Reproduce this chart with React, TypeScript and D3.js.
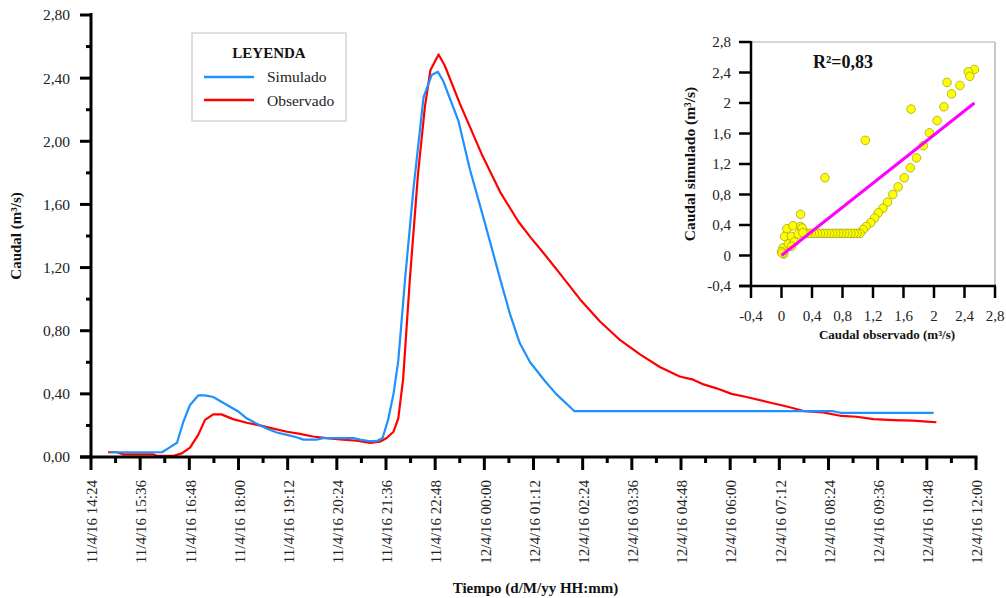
import React from 'react';
import * as d3 from 'd3';

// ---------- Data: hydrograph ----------
const simTimes = ["11/4/16 14:52","11/4/16 16:08","11/4/16 16:17","11/4/16 16:30","11/4/16 16:39","11/4/16 16:49","11/4/16 17:01","11/4/16 17:11","11/4/16 17:23","11/4/16 17:35","11/4/16 17:47","11/4/16 17:59","11/4/16 18:12","11/4/16 18:27","11/4/16 18:41","11/4/16 18:56","11/4/16 19:11","11/4/16 19:25","11/4/16 19:35","11/4/16 19:54","11/4/16 20:04","11/4/16 20:29","11/4/16 20:48","11/4/16 20:58","11/4/16 21:13","11/4/16 21:22","11/4/16 21:31","11/4/16 21:39","11/4/16 21:47","11/4/16 21:54","11/4/16 22:04","11/4/16 22:16","11/4/16 22:31","11/4/16 22:43","11/4/16 22:52","11/4/16 23:00","11/4/16 23:22","11/4/16 23:39","12/4/16 00:01","12/4/16 00:23","12/4/16 00:38","12/4/16 00:52","12/4/16 01:07","12/4/16 01:29","12/4/16 01:45","12/4/16 02:12","12/4/16 08:31","12/4/16 08:41","12/4/16 10:58"];
const simValues = [0.03,0.03,0.055,0.09,0.22,0.33,0.39,0.39,0.38,0.35,0.32,0.29,0.245,0.21,0.18,0.155,0.14,0.125,0.11,0.11,0.12,0.12,0.12,0.11,0.10,0.10,0.12,0.235,0.40,0.61,1.13,1.69,2.28,2.42,2.44,2.38,2.13,1.82,1.48,1.13,0.90,0.72,0.60,0.48,0.40,0.29,0.29,0.28,0.28];

const obsTimes = ["11/4/16 14:49","11/4/16 15:02","11/4/16 15:11","11/4/16 15:55","11/4/16 16:00","11/4/16 16:25","11/4/16 16:37","11/4/16 16:49","11/4/16 17:01","11/4/16 17:11","11/4/16 17:23","11/4/16 17:35","11/4/16 17:52","11/4/16 18:12","11/4/16 18:31","11/4/16 18:51","11/4/16 19:11","11/4/16 19:30","11/4/16 19:49","11/4/16 20:09","11/4/16 20:33","11/4/16 20:53","11/4/16 21:13","11/4/16 21:27","11/4/16 21:37","11/4/16 21:47","11/4/16 21:54","11/4/16 22:01","11/4/16 22:11","11/4/16 22:23","11/4/16 22:33","11/4/16 22:41","11/4/16 22:53","11/4/16 23:02","11/4/16 23:24","11/4/16 23:56","12/4/16 00:23","12/4/16 00:50","12/4/16 01:08","12/4/16 01:29","12/4/16 01:51","12/4/16 02:20","12/4/16 02:49","12/4/16 03:19","12/4/16 03:48","12/4/16 04:17","12/4/16 04:46","12/4/16 05:06","12/4/16 05:21","12/4/16 05:40","12/4/16 06:02","12/4/16 06:24","12/4/16 06:53","12/4/16 07:23","12/4/16 07:49","12/4/16 08:16","12/4/16 08:43","12/4/16 09:05","12/4/16 09:30","12/4/16 09:59","12/4/16 10:28","12/4/16 10:48","12/4/16 11:02"];
const obsValues = [0.03,0.03,0.017,0.017,0.008,0.008,0.023,0.06,0.14,0.235,0.27,0.27,0.24,0.217,0.20,0.18,0.16,0.146,0.13,0.12,0.11,0.103,0.09,0.097,0.12,0.16,0.245,0.49,1.13,1.80,2.22,2.45,2.55,2.48,2.24,1.92,1.68,1.49,1.39,1.28,1.16,1.00,0.86,0.74,0.65,0.57,0.51,0.49,0.46,0.435,0.40,0.38,0.35,0.32,0.29,0.283,0.26,0.255,0.24,0.234,0.23,0.224,0.22];

const timeDomain = ["11/4/16 14:24", "12/4/16 12:00"];
const mainYTicks = [0, 0.4, 0.8, 1.2, 1.6, 2.0, 2.4, 2.8];

// ---------- Data: scatter (observed vs simulated) ----------
const scatterObs = [2.53,2.45,2.47,2.17,2.34,2.23,2.13,1.70,2.04,1.94,1.86,1.77,1.69,1.61,1.53,1.46,1.39,1.33,1.27,1.22,1.17,1.11,1.07,
  1.03,0.99,0.95,0.91,0.87,0.83,0.79,0.75,0.71,0.67,0.63,0.59,0.55,0.51,0.47,0.43,0.39,0.35,0.31,
  1.10,0.57,0.25,
  0.07,0.15,0.25,0.27,0.04,0.13,0.22,0.28,0.02,0.09,0.17,0.0,0.03,0.13,0.01];
const scatterSim = [2.44,2.41,2.35,2.27,2.23,2.12,1.95,1.92,1.77,1.61,1.44,1.28,1.15,1.02,0.90,0.80,0.70,0.62,0.56,0.49,0.43,0.38,0.34,
  0.29,0.29,0.29,0.29,0.29,0.29,0.29,0.29,0.29,0.29,0.29,0.29,0.29,0.29,0.29,0.29,0.29,0.29,0.29,
  1.51,1.02,0.54,
  0.35,0.39,0.38,0.36,0.25,0.25,0.28,0.30,0.10,0.15,0.18,0.05,0.02,0.12,0.03];
const regObs = [0, 2.53];
const regSim = [0, 2.0];
const insetTicks = [-0.4, 0, 0.4, 0.8, 1.2, 1.6, 2.0, 2.4, 2.8];
const r2Label = "R²=0,83";

const parse = d3.timeParse('%d/%m/%y %H:%M');
const fmtTime = d3.timeFormat('%-d/%-m/%y %H:%M');
const loc = d3.formatLocale({ decimal: ',', thousands: '.', grouping: [3], currency: ['', ''], minus: '-' });
const fmt2 = loc.format('.2f');
const fmt1 = loc.format('.1~f');

const SERIF = '"Liberation Serif", "Times New Roman", serif';

export default function App() {
  const t0 = parse(timeDomain[0])!;
  const t1 = parse(timeDomain[1])!;
  const x = d3.scaleTime().domain([t0, t1]).range([91, 976]);
  const y = d3.scaleLinear().domain([0, 2.8]).range([457, 15]);

  const majorX = d3.range(19).map(i => new Date(t0.getTime() + i * 72 * 60000));
  const minorX = d3.range(18).map(i => new Date(t0.getTime() + (i * 72 + 36) * 60000));
  const minorY = mainYTicks.slice(0, -1).map(v => v + 0.2);

  const sim = simTimes.map((t, i) => ({ t: parse(t)!, v: simValues[i] }));
  const obs = obsTimes.map((t, i) => ({ t: parse(t)!, v: obsValues[i] }));
  const line = d3.line<{ t: Date; v: number }>().x(d => x(d.t)).y(d => y(d.v));

  const ix = d3.scaleLinear().domain([-0.4, 2.8]).range([751, 995]);
  const iy = d3.scaleLinear().domain([-0.4, 2.8]).range([286, 42]);

  const [x0, x1] = x.range();
  const [y0, y1] = y.range();

  return (
    <svg width={1006} height={598} style={{ position: 'absolute', left: 0, top: 0, background: '#fff' }}
      fontFamily={SERIF}>
      <rect x={0} y={0} width={1006} height={598} fill="#fff" />
      {/* ---- Main chart ---- */}
      <path d={line(obs) || ''} fill="none" stroke="#ff0000" strokeWidth={2.2} strokeLinejoin="round" />
      <path d={line(sim) || ''} fill="none" stroke="#1e90ff" strokeWidth={2.2} strokeLinejoin="round" />
      {/* y axis */}
      <line x1={x0} x2={x0} y1={y1 - 2} y2={y0 + 1.5} stroke="#000" strokeWidth={3} />
      {mainYTicks.map(v => (
        <g key={'yt' + v}>
          <line x1={x0 - 11} x2={x0} y1={y(v)} y2={y(v)} stroke="#000" strokeWidth={3} />
          <text x={70} y={y(v)} dy="0.35em" textAnchor="end" fontSize={15.5} fill="#222">{fmt2(v)}</text>
        </g>
      ))}
      {minorY.map(v => (
        <line key={'ym' + v} x1={x0 - 5} x2={x0} y1={y(v)} y2={y(v)} stroke="#000" strokeWidth={3} />
      ))}
      {/* x axis */}
      <line x1={x0 - 11} x2={x1 + 1.5} y1={y0} y2={y0} stroke="#000" strokeWidth={3} />
      {majorX.map(d => (
        <g key={'xt' + d.getTime()}>
          <line x1={x(d)} x2={x(d)} y1={y0} y2={y0 + 13} stroke="#000" strokeWidth={3} />
          <text transform={`translate(${x(d) + 1},${480}) rotate(-90)`} dy="0.35em" textAnchor="end" fontSize={15} fill="#222">{fmtTime(d)}</text>
        </g>
      ))}
      {minorX.map(d => (
        <line key={'xm' + d.getTime()} x1={x(d)} x2={x(d)} y1={y0} y2={y0 + 6} stroke="#000" strokeWidth={3} />
      ))}
      <text x={(x0 + x1) / 2 + 2} y={593} textAnchor="middle" fontSize={15} fontWeight="bold" fill="#111">Tiempo (d/M/yy HH:mm)</text>
      <text transform={`translate(21,${(y0 + y1) / 2}) rotate(-90)`} textAnchor="middle" fontSize={15} fontWeight="bold" fill="#111">Caudal (m³/s)</text>

      {/* legend */}
      <rect x={192} y={33} width={154} height={88} fill="#fff" stroke="#bfbfbf" strokeWidth={1} />
      <text x={269} y={58} textAnchor="middle" fontSize={15} fontWeight="bold" fill="#111">LEYENDA</text>
      <line x1={204} x2={254} y1={77} y2={77} stroke="#1e90ff" strokeWidth={2.5} />
      <text x={267} y={82} fontSize={15.5} fill="#222">Simulado</text>
      <line x1={204} x2={254} y1={100} y2={100} stroke="#ff0000" strokeWidth={2.5} />
      <text x={267} y={106} fontSize={15.5} fill="#222">Observado</text>

      {/* ---- Inset scatter ---- */}
      <line x1={ix(-0.4)} x2={ix(2.8)} y1={iy(2.8)} y2={iy(2.8)} stroke="#c8c8c8" strokeWidth={1.5} />
      <line x1={ix(2.8)} x2={ix(2.8)} y1={iy(2.8)} y2={iy(-0.4)} stroke="#c8c8c8" strokeWidth={2} />
      {scatterObs.map((o, i) => (
        <circle key={'p' + i} cx={ix(o)} cy={iy(scatterSim[i])} r={4.3} fill="#ffff00" stroke="#9a9a10" strokeWidth={0.7} />
      ))}
      <line x1={ix(regObs[0])} y1={iy(regSim[0])} x2={ix(regObs[1])} y2={iy(regSim[1])} stroke="#ff00ff" strokeWidth={3} />
      <line x1={ix(-0.4)} x2={ix(-0.4)} y1={iy(2.8) - 1} y2={iy(-0.4) + 1} stroke="#000" strokeWidth={2.5} />
      <line x1={ix(-0.4) - 12} x2={ix(2.8) + 1} y1={iy(-0.4)} y2={iy(-0.4)} stroke="#000" strokeWidth={2.5} />
      {insetTicks.map(v => (
        <g key={'it' + v}>
          <line x1={ix(-0.4) - 12} x2={ix(-0.4)} y1={iy(v)} y2={iy(v)} stroke="#000" strokeWidth={2.5} />
          <text x={731} y={iy(v)} dy="0.35em" textAnchor="end" fontSize={15} fill="#222">{fmt1(v)}</text>
          <line x1={ix(v)} x2={ix(v)} y1={iy(-0.4)} y2={iy(-0.4) + 12} stroke="#000" strokeWidth={2.5} />
          <text x={ix(v)} y={321} textAnchor="middle" fontSize={15} fill="#222">{fmt1(v)}</text>
        </g>
      ))}
      <text x={887} y={339} textAnchor="middle" fontSize={13} fontWeight="bold" fill="#111">Caudal observado (m³/s)</text>
      <text transform={`translate(695,${(iy(2.8) + iy(-0.4)) / 2}) rotate(-90)`} textAnchor="middle" fontSize={15.5} fontWeight="bold" fill="#111">Caudal simulado (m³/s)</text>
      <text x={843} y={68} textAnchor="middle" fontSize={18} fontWeight="bold" fill="#111">{r2Label}</text>
    </svg>
  );
}
